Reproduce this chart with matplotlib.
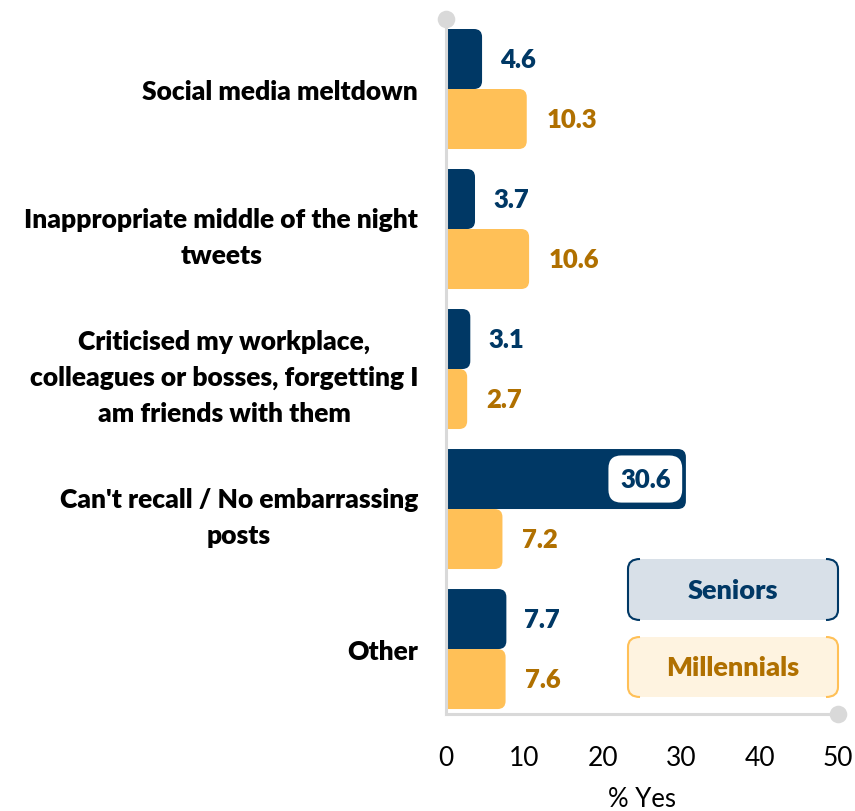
import matplotlib
matplotlib.use("Agg")
import matplotlib.pyplot as plt
from matplotlib.patches import FancyBboxPatch, PathPatch
from matplotlib.path import Path
import numpy as np

plt.rcParams['font.family'] = ['Lato', 'DejaVu Sans']

categories = [
    "Social media meltdown",
    "Inappropriate middle of the night\ntweets",
    "Criticised my workplace,\ncolleagues or bosses, forgetting I\nam friends with them",
    "Can't recall / No embarrassing\nposts",
    "Other",
]
seniors = [4.6, 3.7, 3.1, 30.6, 7.7]
millennials = [10.3, 10.6, 2.7, 7.2, 7.6]
series_names = ["Seniors", "Millennials"]
xticks = [0, 10, 20, 30, 40, 50]
xlabel = "% Yes"

NAVY = "#003865"
GOLD = "#FFC057"
GOLD_TXT = "#B07000"
GRID = "#D9D9D9"
BOLD = 800

W, H = 855, 812
fig = plt.figure(figsize=(W / 100, H / 100), dpi=100)
ax = fig.add_axes([446 / W, 1 - 715 / H, (838 - 446) / W, (715 - 20) / H])

n = len(categories)
yc = np.arange(n)
bh = 60 / 140
ylim = (4.464, -0.5)
ax.set_xlim(0, 50)
ax.set_ylim(*ylim)

b1 = ax.barh(yc - bh / 2, seniors, height=bh, color=NAVY)
b2 = ax.barh(yc + bh / 2, millennials, height=bh, color=GOLD)

x_per_px = 50 / (838 - 446)
y_per_px = (ylim[0] - ylim[1]) / (715 - 20)
asp = y_per_px / x_per_px
rr = 8 * x_per_px

for bars, color in ((b1, NAVY), (b2, GOLD)):
    for rect in bars:
        x, y = rect.get_xy()
        w, h = rect.get_width(), rect.get_height()
        rect.set_visible(False)
        p = FancyBboxPatch((x - 3, y), w + 3, h,
                           boxstyle=f"round,pad=0,rounding_size={rr}",
                           mutation_aspect=asp, fc=color, ec="none", zorder=2)
        ax.add_patch(p)

# value labels
VS = 18.5
for i, v in enumerate(seniors):
    if v > 20:
        ax.annotate(f"{v:.1f}", (v, yc[i] - bh / 2), xytext=(-11, 0),
                    textcoords="offset points", ha="right", va="center",
                    fontsize=VS, fontweight=BOLD, color=NAVY, zorder=5,
                    bbox=dict(boxstyle="round,pad=0.45,rounding_size=0.5",
                              fc="white", ec="none"))
    else:
        ax.annotate(f"{v:.1f}", (v, yc[i] - bh / 2), xytext=(13, 0),
                    textcoords="offset points", ha="left", va="center",
                    fontsize=VS, fontweight=BOLD, color=NAVY)
for i, v in enumerate(millennials):
    ax.annotate(f"{v:.1f}", (v, yc[i] + bh / 2), xytext=(14, 0),
                textcoords="offset points", ha="left", va="center",
                fontsize=VS, fontweight=BOLD, color=GOLD_TXT)

# axes styling
for s in ("top", "right"):
    ax.spines[s].set_visible(False)
for s in ("left", "bottom"):
    ax.spines[s].set_color(GRID)
    ax.spines[s].set_linewidth(2.2)
    ax.spines[s].set_zorder(3)
ax.set_xticks(xticks)
ax.set_xticklabels([str(t) for t in xticks])
ax.tick_params(axis="x", length=0, pad=22, labelsize=19, labelcolor="black")
ax.set_yticks(yc)
ax.set_yticklabels(categories, fontsize=19, fontweight=BOLD, linespacing=1.6)
ax.tick_params(axis="y", length=0, pad=20)
for lab in ax.get_yticklabels():
    lab.set_multialignment("center")
ax.set_xlabel(xlabel, fontsize=18.5, labelpad=12)

ax.scatter([0], [ylim[1]], s=160, color=GRID, clip_on=False, zorder=6, linewidths=0)
ax.scatter([50], [ylim[0]], s=160, color=GRID, clip_on=False, zorder=6, linewidths=0)

# legend drawn in pixel space
ov = fig.add_axes([0, 0, 1, 1], facecolor="none")
ov.set_xlim(0, W)
ov.set_ylim(H, 0)
ov.axis("off")


def bracket_box(x0, y0, x1, y1, fc, ec, r=10):
    ov.add_patch(FancyBboxPatch((x0, y0), x1 - x0, y1 - y0,
                                boxstyle=f"round,pad=0,rounding_size={r}",
                                fc=fc, ec="none"))
    ext = 2
    for side in (0, 1):
        if side == 0:
            verts = [(x0 + r + ext, y0), (x0, y0), (x0, y0 + r), (x0, y1 - r),
                     (x0, y1), (x0 + r + ext, y1)]
        else:
            verts = [(x1 - r - ext, y0), (x1, y0), (x1, y0 + r), (x1, y1 - r),
                     (x1, y1), (x1 - r - ext, y1)]
        codes = [Path.MOVETO, Path.CURVE3, Path.CURVE3, Path.LINETO,
                 Path.CURVE3, Path.CURVE3]
        ov.add_patch(PathPatch(Path(verts, codes), fc="none", ec=ec, lw=1.5))


bracket_box(628, 560, 838, 621, "#D8E0E8", NAVY)
bracket_box(628, 638, 838, 698, "#FEF3E0", GOLD)
ov.text(733, 591, series_names[0], ha="center", va="center", fontsize=19.5,
        fontweight=BOLD, color=NAVY)
ov.text(733, 668, series_names[1], ha="center", va="center", fontsize=19.5,
        fontweight=BOLD, color=GOLD_TXT)

fig.savefig("out.png", dpi=100)
